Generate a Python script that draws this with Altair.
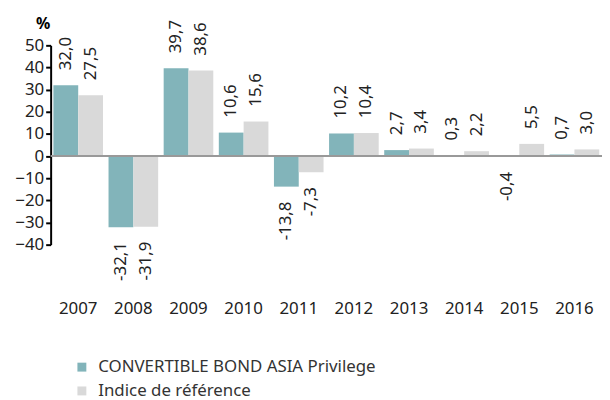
import altair as alt
import pandas as pd

years = ["2007", "2008", "2009", "2010", "2011", "2012", "2013", "2014", "2015", "2016"]
fund = [32.0, -32.1, 39.7, 10.6, -13.8, 10.2, 2.7, 0.3, -0.4, 0.7]
index = [27.5, -31.9, 38.6, 15.6, -7.3, 10.4, 3.4, 2.2, 5.5, 3.0]
series = ["CONVERTIBLE BOND ASIA Privilege", "Indice de référence"]
colors = ["#82B4BA", "#D9D9D9"]
yticks = [-40, -30, -20, -10, 0, 10, 20, 30, 40, 50]

rows = []
for i, y in enumerate(years):
    for s, vals in zip(series, [fund, index]):
        v = vals[i]
        rows.append({"year": y, "series": s, "value": v,
                     "label": f"{v:.1f}".replace(".", ",")})
df = pd.DataFrame(rows)

FONT = "Noto Sans"

x = alt.X("year:N", sort=years,
          scale=alt.Scale(paddingInner=0.1, paddingOuter=0.05),
          axis=alt.Axis(title=None, domain=False, ticks=False, labelAngle=0,
                        labelPadding=56, labelFontSize=17, labelColor="#222",
                        labelFont=FONT))
xo = alt.XOffset("series:N", sort=series)
yscale = alt.Scale(domain=[-40, 50], nice=False, zero=False)
yaxis = alt.Axis(values=yticks, grid=False, tickCount=10,
                 labelOverlap=False, labelFlush=False,
                 domainColor="#000", domainWidth=2, tickColor="#000",
                 tickWidth=2, tickSize=5, labelFontSize=17,
                 labelColor="#222", labelFont=FONT, labelPadding=2,
                 title="%", titleAngle=0, titleFontSize=16,
                 titleFontWeight="bold", titleColor="#000",
                 titleX=-8, titleY=-14, titleAlign="center",
                 titleFont=FONT)
y = alt.Y("value:Q", scale=yscale, axis=yaxis)

bars = alt.Chart(df).mark_bar().encode(
    x=x, xOffset=xo, y=y,
    color=alt.Color("series:N", sort=series,
                    scale=alt.Scale(domain=series, range=colors),
                    legend=alt.Legend(title=None, orient="none", legendX=23,
                                      legendY=316, symbolType="square",
                                      symbolSize=81, symbolStrokeWidth=0,
                                      labelFontSize=17, labelColor="#333",
                                      labelFont=FONT, rowPadding=6,
                                      labelLimit=0, labelOffset=8)),
)

zero = alt.Chart(pd.DataFrame({"value": [0]})).mark_rule(color="#999", strokeWidth=2).encode(y=y)

pos = alt.Chart(df).transform_filter("datum.value >= 0").mark_text(
    angle=270, align="left", baseline="middle", dx=15, fontSize=17,
    font=FONT, color="#222").encode(x=x, xOffset=xo, y=y, text="label:N")
neg = alt.Chart(df).transform_filter("datum.value < 0").mark_text(
    angle=270, align="right", baseline="middle", dx=-15, fontSize=17,
    font=FONT, color="#222").encode(x=x, xOffset=xo, y=y, text="label:N")

chart = alt.layer(bars, zero, pos, neg).properties(
    width=556, height=201,
    autosize=alt.AutoSizeParams(type="none"),
    padding={"left": 43, "top": 36, "right": 0, "bottom": 155},
).configure_view(stroke=None)

chart.save("out.html", embed_options={"renderer": "svg", "actions": False})
